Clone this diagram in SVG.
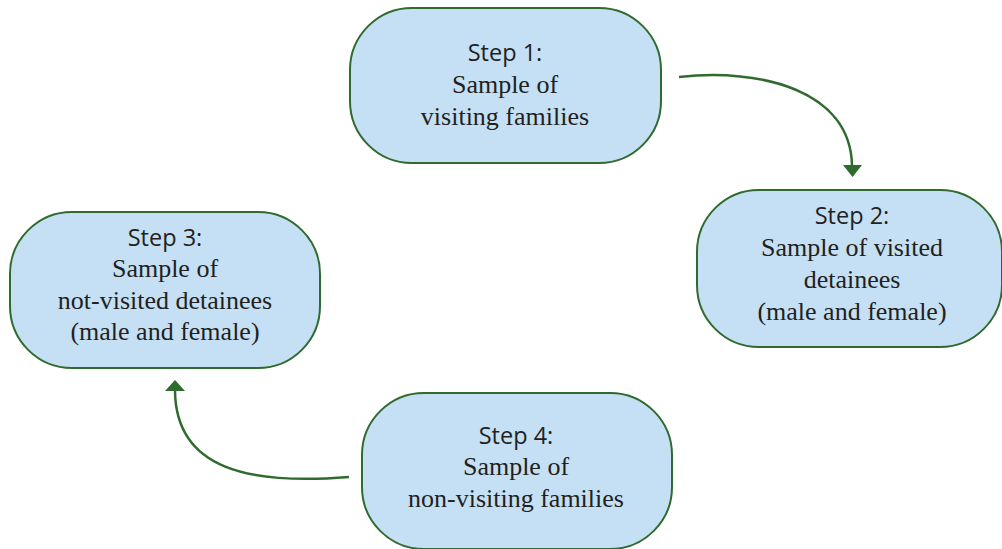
<svg xmlns="http://www.w3.org/2000/svg" width="1002" height="549" viewBox="0 0 1002 549">
<style>
.node{fill:#c5e0f4;stroke:#2f6b2e;stroke-width:2}
.hd{font-family:"Open Sans","Noto Sans",sans-serif;font-size:23.5px;fill:#231f20;text-anchor:middle}
.bd{font-family:"Liberation Serif",serif;font-size:26px;fill:#231f20;text-anchor:middle}
.conn{fill:none;stroke:#2f6b2e;stroke-width:2.5}
</style>
<rect width="1002" height="549" fill="#ffffff"/>
<g id="connectors">
<path class="conn" d="M679,77 C760,68 850,90 852,165"/>
<polygon points="843,165 862,165 852.5,177" fill="#2f6b2e"/>
<path class="conn" d="M349,477 C250,485 176,470 175,391"/>
<polygon points="165,391 185,391 175,380" fill="#2f6b2e"/>
</g>
<g id="node1">
<rect class="node" x="350" y="8" width="311" height="155" rx="62" ry="62"/>
<text class="hd" x="505" y="61">Step 1:</text>
<text class="bd" x="505" y="93">Sample of</text>
<text class="bd" x="505" y="125">visiting families</text>
</g>
<g id="node2">
<rect class="node" x="697" y="190" width="305" height="157" rx="62" ry="62"/>
<text class="hd" x="852" y="224">Step 2:</text>
<text class="bd" x="852" y="256">Sample of visited</text>
<text class="bd" x="852" y="288">detainees</text>
<text class="bd" x="852" y="320">(male and female)</text>
</g>
<g id="node3">
<rect class="node" x="10" y="212" width="310" height="156" rx="62" ry="62"/>
<text class="hd" x="165" y="246">Step 3:</text>
<text class="bd" x="165" y="277">Sample of</text>
<text class="bd" x="165" y="309">not-visited detainees</text>
<text class="bd" x="165" y="340">(male and female)</text>
</g>
<g id="node4">
<rect class="node" x="362" y="393" width="310" height="156" rx="62" ry="62"/>
<text class="hd" x="516" y="444">Step 4:</text>
<text class="bd" x="516" y="475">Sample of</text>
<text class="bd" x="516" y="507">non-visiting families</text>
</g>
</svg>
